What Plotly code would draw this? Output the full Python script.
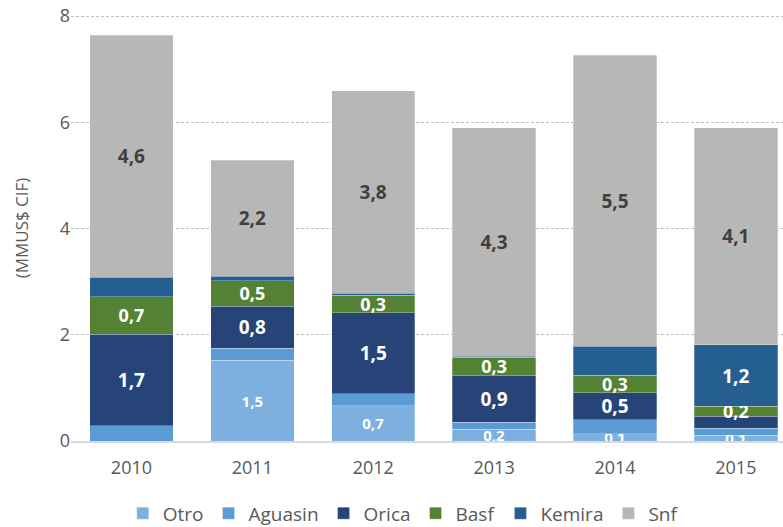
import plotly.graph_objects as go

years = ["2010", "2011", "2012", "2013", "2014", "2015"]
otro = [0.0, 1.52, 0.66, 0.22, 0.14, 0.11]
aguasin = [0.29, 0.23, 0.23, 0.13, 0.26, 0.13]
orica = [1.72, 0.79, 1.52, 0.88, 0.51, 0.23]
basf = [0.71, 0.48, 0.33, 0.35, 0.33, 0.18]
kemira = [0.36, 0.08, 0.04, 0.02, 0.54, 1.16]
snf = [4.56, 2.19, 3.81, 4.30, 5.48, 4.09]

# which segments carry a value label
show_otro = [False, True, True, True, True, True]
show_aguasin = [False] * 6
show_orica = [True, True, True, True, True, False]
show_basf = [True] * 6
show_kemira = [False, False, False, False, False, True]
show_snf = [True] * 6

series = [
    ("Otro", otro, show_otro, "#7DB0DE", "white", 15),
    ("Aguasin", aguasin, show_aguasin, "#5B9BD5", "white", 19),
    ("Orica", orica, show_orica, "#264478", "white", 19),
    ("Basf", basf, show_basf, "#548235", "white", 18),
    ("Kemira", kemira, show_kemira, "#255E91", "white", 19),
    ("Snf", snf, show_snf, "#B7B7B7", "#404040", 19),
]

def fmt(v):
    return f"{v:.1f}".replace(".", ",")

fig = go.Figure()
for name, vals, show, color, tcolor, tsize in series:
    texts = [f"<b>{fmt(v)}</b>" if s else "" for v, s in zip(vals, show)]
    fig.add_trace(go.Bar(
        name=name, x=years, y=vals, text=texts,
        textposition="inside", insidetextanchor="middle",
        textangle=0, constraintext="none",
        textfont=dict(color=tcolor, size=tsize, family="Open Sans"),
        marker=dict(color=color, line=dict(color="rgba(255,255,255,0.35)", width=0.8)),
        hoverinfo="x+y+name",
    ))

fig.update_layout(
    barmode="stack", bargap=0.31,
    width=783, height=527,
    margin=dict(l=71, r=0, t=15, b=86, autoexpand=False),
    paper_bgcolor="white", plot_bgcolor="white",
    font=dict(family="Open Sans", color="#595959", size=16),
    legend=dict(orientation="h", xref="container", yref="container",
                x=0.515, xanchor="center", y=0.026, yanchor="middle",
                font=dict(size=19, color="#595959"), itemwidth=30,
                traceorder="normal"),
    showlegend=True,
)
fig.update_xaxes(range=[-0.5, 5.39], showgrid=False, showline=True, automargin=False,
                 linecolor="#D9D9D9", linewidth=1.5, ticks="", ticklabelstandoff=10,
                 tickfont=dict(size=18, color="#595959"))
fig.update_yaxes(range=[0, 8.02], tickvals=[0, 2, 4, 6, 8], showgrid=True, automargin=False,
                 gridcolor="#BFBFBF", griddash="3px,2px", gridwidth=1,
                 zeroline=False, showline=False, ticks="",
                 tickfont=dict(size=18, color="#595959"),
                 title=dict(text="(MMUS$ CIF)", font=dict(size=17, color="#595959"), standoff=26))

fig.write_html("out.html", config={"displayModeBar": False},
               post_script="document.body.style.margin='0';document.body.style.overflow='hidden';")
